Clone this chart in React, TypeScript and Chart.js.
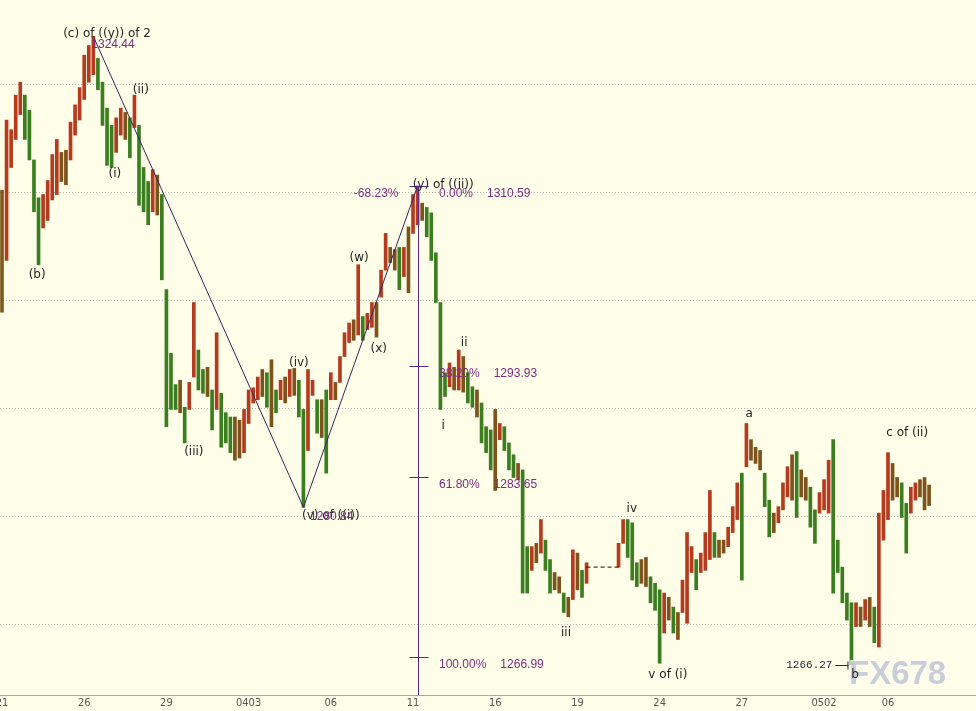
import React, { useEffect, useRef } from "react";
import { Chart, registerables } from "chart.js";

Chart.register(...registerables);

// ---- data ----
const DATE_LABELS = ["21", "26", "29", "0403", "06", "11", "16", "19", "24", "27", "0502", "06"];
const DATE_LABEL_BARS = [0, 18, 36, 54, 72, 90, 108, 126, 144, 162, 180, 194];

const HIGHS: (number | null)[] = [
  1310.2, 1316.7, 1315.8, 1319.0, 1320.2, 1319.0, 1317.6, 1313.0, 1309.5, 1309.8,
  1311.1, 1313.5, 1314.9, 1313.7, 1313.9, 1316.5, 1318.1, 1319.7, 1322.7, 1323.6,
  1324.44, 1322.4, 1320.2, 1317.8, 1316.2, 1316.9, 1317.8, 1317.4, 1316.9, 1319.0,
  1316.2, 1312.3, 1311.0, 1312.1, 1311.6, 1309.8, 1301.0, 1295.1, 1292.2, 1292.6,
  1290.1, 1292.4, 1299.8, 1295.4, 1293.6, 1293.8, 1291.7, 1297.0, 1291.4, 1289.6,
  1289.2, 1289.2, 1288.9, 1289.9, 1291.7, 1291.9, 1292.9, 1293.6, 1293.3, 1294.5,
  1291.7, 1292.6, 1292.9, 1293.6, 1293.7, 1292.6, 1289.9, 1293.6, 1292.6, 1290.8,
  1290.8, 1291.7, 1293.3, 1292.4, 1294.8, 1297.0, 1297.9, 1298.2, 1303.3, 1298.5,
  1298.8, 1299.8, 1299.8, 1302.8, 1306.2, 1304.9, 1304.7, 1304.9, 1304.9, 1306.8,
  1309.8, 1310.59, 1309.0, 1308.6, 1308.1, 1304.4, 1299.8, 1293.3, 1294.2, 1293.8,
  1295.4, 1294.8, 1293.3, 1292.0, 1291.7, 1290.5, 1288.3, 1288.0, 1289.9, 1288.6,
  1288.3, 1286.8, 1285.7, 1284.9, 1284.3, 1277.2, 1277.2, 1277.5, 1279.7, 1277.8,
  1276.0, 1274.8, 1274.4, 1272.9, 1272.5, 1276.9, 1276.6, 1275.0, 1275.7, null,
  null, null, null, null, null, 1277.5, 1279.7, 1279.7, 1279.4, 1275.7,
  1276.0, 1276.2, 1274.4, 1273.8, 1273.2, 1272.9, 1272.5, 1271.6, 1271.1, 1274.1,
  1278.5, 1277.2, 1276.0, 1276.6, 1278.5, 1282.4, 1278.5, 1277.8, 1277.8, 1279.0,
  1280.9, 1283.1, 1284.0, 1288.6, 1287.1, 1286.4, 1286.1, 1284.0, 1281.5, 1280.3,
  1280.9, 1283.1, 1284.6, 1285.7, 1286.0, 1284.3, 1283.6, 1282.7, 1280.6, 1282.2,
  1283.4, 1285.2, 1287.1, 1277.8, 1275.3, 1272.9, 1272.0, 1272.0, 1271.6, 1272.3,
  1272.5, 1271.6, 1280.3, 1282.4, 1285.9, 1284.9, 1283.6, 1283.1, 1281.2, 1282.7,
  1283.1, 1283.4, 1283.6, 1282.9,
];

const LOWS: (number | null)[] = [
  1298.9, 1303.7, 1312.3, 1314.9, 1317.2, 1314.9, 1313.0, 1308.2, 1303.3, 1306.7,
  1307.4, 1309.3, 1309.8, 1311.0, 1310.7, 1313.0, 1315.3, 1316.7, 1318.6, 1320.2,
  1320.9, 1319.5, 1316.2, 1312.5, 1312.3, 1313.7, 1315.3, 1314.9, 1313.2, 1316.0,
  1308.8, 1308.2, 1307.0, 1308.2, 1307.9, 1301.9, 1288.3, 1289.9, 1289.9, 1289.6,
  1286.8, 1289.9, 1292.9, 1291.7, 1291.4, 1291.1, 1288.0, 1289.9, 1286.4, 1286.8,
  1285.9, 1285.2, 1285.4, 1285.9, 1288.6, 1290.5, 1290.8, 1291.1, 1290.1, 1288.3,
  1289.6, 1290.8, 1290.5, 1291.1, 1291.2, 1289.2, 1280.84, 1286.1, 1291.2, 1287.7,
  1287.3, 1284.0, 1290.8, 1290.8, 1292.4, 1294.8, 1296.1, 1296.3, 1296.8, 1296.3,
  1297.3, 1297.5, 1296.6, 1300.3, 1302.8, 1303.5, 1302.8, 1301.0, 1302.2, 1300.7,
  1306.2, 1307.0, 1307.4, 1305.9, 1303.7, 1299.8, 1289.9, 1291.1, 1292.0, 1291.7,
  1291.7, 1291.5, 1290.5, 1290.1, 1289.2, 1286.8, 1285.9, 1284.3, 1282.4, 1287.1,
  1286.1, 1284.3, 1283.6, 1283.4, 1272.9, 1272.9, 1275.0, 1275.7, 1276.6, 1275.0,
  1272.9, 1273.2, 1272.9, 1271.1, 1270.7, 1272.3, 1273.2, 1272.5, 1273.8, null,
  null, null, null, null, null, 1275.3, 1277.5, 1276.2, 1274.1, 1273.5,
  1273.8, 1273.5, 1272.0, 1271.3, 1266.4, 1269.2, 1270.4, 1269.2, 1268.6, 1271.1,
  1270.1, 1274.8, 1273.2, 1274.8, 1275.0, 1276.0, 1276.2, 1276.2, 1276.6, 1277.2,
  1278.5, 1279.7, 1274.1, 1284.6, 1285.2, 1284.9, 1284.3, 1280.9, 1278.1, 1278.5,
  1279.4, 1280.6, 1281.8, 1281.5, 1279.9, 1281.8, 1281.5, 1279.0, 1277.5, 1280.3,
  1280.6, 1280.3, 1272.9, 1274.8, 1272.0, 1270.4, 1266.27, 1269.8, 1269.8, 1270.4,
  1269.8, 1268.3, 1267.9, 1277.8, 1279.7, 1281.5, 1281.8, 1279.9, 1276.6, 1280.3,
  1281.5, 1281.8, 1280.6, 1281.0,
];

const WAVE_PATH_BARS = [20, 66, 91];
const WAVE_PATH_PRICES = [1324.44, 1280.84, 1310.59];

const FIB_BAR = 91;
const FIB_PCTS = ["0.00%", "38.20%", "61.80%", "100.00%"];
const FIB_PRICES = [1310.59, 1293.93, 1283.65, 1266.99];
const FIB_EXT_LABEL = "-68.23%";

const GRID_PRICES = [1320, 1310, 1300, 1290, 1280, 1270];

const GAP_LINE_BARS = [128, 135];
const GAP_LINE_PRICE = 1275.3;

const LOW_MARK_BAR = 186;
const LOW_MARK_PRICE = 1266.27;

const WAVE_LABEL_TEXTS = [
  "(c) of ((y)) of 2", "(ii)", "(i)", "(b)", "(iii)", "(iv)", "(v) of ((i))", "(w)", "(x)",
  "(y) of ((ii))", "ii", "i", "iii", "iv", "v of (i)", "a", "c of (ii)", "b",
];
const WAVE_LABEL_BARS = [23.0, 30.4, 24.7, 7.7, 42.0, 65.0, 72.0, 78.2, 82.5, 96.6, 101.2, 96.6, 123.5, 137.9, 145.8, 163.6, 198.2, 186.8];
const WAVE_LABEL_PRICES = [1324.66, 1319.5, 1311.7, 1302.4, 1285.96, 1294.2, 1280.0, 1303.9, 1295.5, 1310.7, 1296.05, 1288.4, 1269.2, 1280.7, 1265.3, 1289.5, 1287.7, 1265.3];

const PRICE_TAG_TEXTS = ["1324.44", "1280.84"];
const PRICE_TAG_BARS = [24.3, 72.2];
const PRICE_TAG_PRICES = [1323.64, 1280.0];

// ---- view / style ----
const X_MIN = -0.438;
const X_MAX = 213.27;
const Y_MIN = 1263.46;
const Y_MAX = 1327.81;
const BG = "#fffee8";
const PURPLE = "#7d2b80";
const FIB_LINE = "#5a2590";
const TEXT = "#1e1e1e";
const FONT = "'Liberation Sans', Arial, sans-serif";
const LABEL_FONT = "'DejaVu Sans', Verdana, sans-serif";

function barColor(i: number): string {
  const h = HIGHS[i], l = LOWS[i];
  if (h == null || l == null) return "#000";
  let j = i - 1;
  while (j >= 0 && HIGHS[j] == null) j--;
  if (j < 0) return "#7d5a1e";
  const m = (h + l) / 2;
  const pm = ((HIGHS[j] as number) + (LOWS[j] as number)) / 2;
  if (m - pm > 0.6) return "#b63a1d";
  if (pm - m > 0.6) return "#3a7e1f";
  return "#7e521b";
}

const overlay = {
  id: "overlay",
  beforeDraw(chart: any) {
    const ctx = chart.ctx;
    ctx.save();
    ctx.fillStyle = BG;
    ctx.fillRect(0, 0, chart.width, chart.height);
    ctx.restore();
  },
  afterDatasetsDraw(chart: any) {
    const { ctx, chartArea } = chart;
    const xs = chart.scales.x;
    const ys = chart.scales.y;
    const px = (v: number) => xs.getPixelForValue(v);
    const py = (v: number) => ys.getPixelForValue(v);
    ctx.save();

    // Fibonacci tool
    const fx = Math.round(px(FIB_BAR)) + 0.5;
    ctx.strokeStyle = FIB_LINE;
    ctx.lineWidth = 1;
    ctx.beginPath();
    ctx.moveTo(fx, Math.round(py(FIB_PRICES[0])));
    ctx.lineTo(fx, chartArea.bottom);
    ctx.stroke();
    ctx.font = `12px ${FONT}`;
    ctx.textBaseline = "middle";
    FIB_PRICES.forEach((p, k) => {
      const yy = Math.round(py(p)) + 0.5;
      ctx.strokeStyle = FIB_LINE;
      ctx.beginPath();
      ctx.moveTo(fx - 9, yy);
      ctx.lineTo(fx + 10, yy);
      ctx.stroke();
      ctx.fillStyle = PURPLE;
      ctx.textAlign = "left";
      const tx = fx + 20.5;
      ctx.fillText(FIB_PCTS[k], tx, yy + 7);
      const w = ctx.measureText(FIB_PCTS[k]).width;
      ctx.fillText(p.toFixed(2), tx + w + 14, yy + 7);
      if (k === 0) {
        ctx.textAlign = "right";
        ctx.fillText(FIB_EXT_LABEL, fx - 20, yy + 7);
      }
    });

    // watermark
    ctx.font = `bold 33px ${FONT}`;
    ctx.textAlign = "left";
    ctx.textBaseline = "middle";
    ctx.lineWidth = 2;
    ctx.strokeStyle = "rgba(255,255,255,0.8)";
    ctx.strokeText("FX678", chart.width - 127, chartArea.bottom - 20);
    ctx.fillStyle = "rgba(192,197,208,0.85)";
    ctx.fillText("FX678", chart.width - 127, chartArea.bottom - 20);

    // wave labels
    ctx.font = `12px ${LABEL_FONT}`;
    ctx.textAlign = "center";
    ctx.textBaseline = "middle";
    ctx.fillStyle = TEXT;
    WAVE_LABEL_TEXTS.forEach((t, k) => {
      ctx.fillText(t, px(WAVE_LABEL_BARS[k]), py(WAVE_LABEL_PRICES[k]));
    });
    ctx.font = `12px ${FONT}`;
    ctx.fillStyle = PURPLE;
    PRICE_TAG_TEXTS.forEach((t, k) => {
      ctx.fillText(t, px(PRICE_TAG_BARS[k]), py(PRICE_TAG_PRICES[k]));
    });

    // low mark
    const ly = Math.round(py(LOW_MARK_PRICE)) + 0.5;
    const lx = px(LOW_MARK_BAR);
    ctx.font = "11px 'Liberation Mono', 'DejaVu Sans Mono', monospace";
    ctx.fillStyle = "#1b2744";
    ctx.textAlign = "right";
    ctx.fillText(LOW_MARK_PRICE.toFixed(2), lx - 19, ly);
    ctx.strokeStyle = "#1b2744";
    ctx.lineWidth = 1;
    ctx.beginPath();
    ctx.moveTo(lx - 16, ly);
    ctx.lineTo(lx - 3, ly);
    ctx.moveTo(lx - 3.5, ly - 4);
    ctx.lineTo(lx - 3.5, ly + 4);
    ctx.stroke();
    ctx.restore();
  },
};

export default function App() {
  const ref = useRef<HTMLCanvasElement | null>(null);
  useEffect(() => {
    if (!ref.current) return;
    const bars: any[] = [];
    const colors: string[] = [];
    HIGHS.forEach((h, i) => {
      const l = LOWS[i];
      if (h == null || l == null) return;
      bars.push({ x: i, y: [l, h] });
      colors.push(barColor(i));
    });
    const chart = new Chart(ref.current, {
      type: "bar",
      data: {
        datasets: [
          {
            type: "line",
            data: WAVE_PATH_BARS.map((b, k) => ({ x: b, y: WAVE_PATH_PRICES[k] })),
            borderColor: "#35245f",
            borderWidth: 1,
            pointRadius: 0,
            order: 0,
          } as any,
          {
            type: "line",
            data: GAP_LINE_BARS.map((b) => ({ x: b, y: GAP_LINE_PRICE })),
            borderColor: "#111",
            borderDash: [4, 3],
            borderWidth: 1,
            pointRadius: 0,
            order: 0,
          } as any,
          {
            type: "bar",
            data: bars,
            backgroundColor: colors,
            barThickness: 3,
            order: 1,
          } as any,
        ],
      },
      options: {
        animation: false,
        responsive: false,
        events: [],
        layout: { padding: 0 },
        plugins: { legend: { display: false }, tooltip: { enabled: false } },
        scales: {
          x: {
            type: "linear",
            min: X_MIN,
            max: X_MAX,
            offset: false,
            grid: { display: false, drawTicks: false },
            border: { display: true, color: "#a9a9a9" },
            ticks: {
              autoSkip: false,
              maxRotation: 0,
              padding: 2,
              color: "#555",
              font: { family: "'Liberation Sans Narrow', 'DejaVu Sans Condensed', sans-serif", size: 11 },
              callback: (v: any) => {
                const k = DATE_LABEL_BARS.indexOf(Number(v));
                return k >= 0 ? DATE_LABELS[k] : "";
              },
            },
            afterBuildTicks: (s: any) => {
              s.ticks = DATE_LABEL_BARS.map((v) => ({ value: v }));
            },
            afterFit: (s: any) => {
              s.height = 16;
              s.paddingLeft = 0;
              s.paddingRight = 0;
            },
          },
          y: {
            min: Y_MIN,
            max: Y_MAX,
            grid: { color: "#b5b5b0", drawTicks: false, lineWidth: 1 },
            border: { display: false, dash: [1, 2] },
            ticks: { display: false },
            afterBuildTicks: (s: any) => {
              s.ticks = GRID_PRICES.map((v) => ({ value: v }));
            },
            afterFit: (s: any) => {
              s.width = 0;
              s.paddingTop = 0;
              s.paddingBottom = 0;
            },
          },
        },
      } as any,
      plugins: [overlay],
    });
    return () => chart.destroy();
  }, []);
  return (
    <div style={{ position: "fixed", left: 0, top: 0, width: 976, height: 711, background: BG }}>
      <canvas ref={ref} width={976} height={711} style={{ display: "block" }} />
    </div>
  );
}
